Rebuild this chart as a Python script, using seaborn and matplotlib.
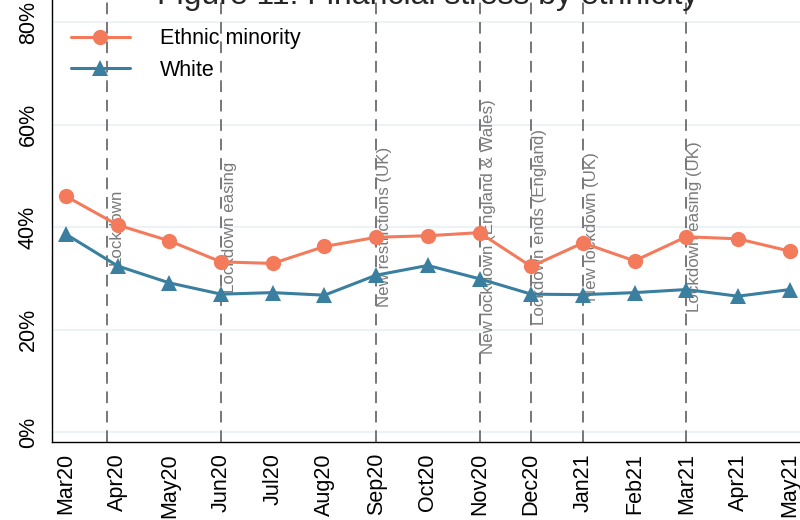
import pandas as pd
import numpy as np
import seaborn as sns
import matplotlib.pyplot as plt

# datos (porcentaje)
meses = ['Mar20', 'Apr20', 'May20', 'Jun20', 'Jul20', 'Aug20', 'Sep20', 'Oct20',
         'Nov20', 'Dec20', 'Jan21', 'Feb21', 'Mar21', 'Apr21', 'May21']
minoria = [46.0, 40.4, 37.3, 33.2, 32.9, 36.2, 38.0, 38.3,
           38.9, 32.3, 36.9, 33.4, 38.1, 37.7, 35.3]
blanco = [38.6, 32.4, 29.1, 26.9, 27.2, 26.7, 30.6, 32.5,
          29.9, 26.9, 26.8, 27.2, 27.8, 26.5, 27.8]

eventos_x = [0.8, 3, 6, 8, 9, 10, 12]
eventos_txt = ['Lockdown', 'Lockdown easing', 'New restrictions (UK)',
               'New lockdown (England & Wales)', 'Lockdown ends (England)',
               'New lockdown (UK)', 'Lockdown easing (UK)']

sns.set_style('white')
plt.rcParams['font.family'] = ['Liberation Sans', 'DejaVu Sans']

df = pd.DataFrame({
    'pos': list(range(len(meses))) * 2,
    'valor': minoria + blanco,
    'grupo': ['Ethnic minority'] * len(meses) + ['White'] * len(meses),
})

fig = plt.figure(figsize=(8, 5.2), dpi=100)
ax = fig.add_axes([0.065, 0.15, 0.935, 0.85])

for y in [0, 20, 40, 60, 80]:
    ax.axhline(y, color='#eaf1f3', lw=1.2, zorder=0)

for x, txt in zip(eventos_x, eventos_txt):
    ax.axvline(x, color='#777777', lw=1.4, ls=(0, (6, 4)), zorder=1)
    ax.text(x + 0.02, 40, txt, rotation=90, ha='left', va='center',
            fontsize=12.2, color='#7a7a7a', zorder=2)

sns.lineplot(data=df, x='pos', y='valor', hue='grupo', style='grupo',
             markers={'Ethnic minority': 'o', 'White': '^'}, dashes=False,
             palette={'Ethnic minority': '#f47a5c', 'White': '#3a7f9f'},
             lw=2.2, markersize=11, markeredgewidth=0, ax=ax, zorder=3)

ax.set_xlim(-0.27, 14.2)
ax.set_ylim(-1.95, 84.3)
ax.set_xticks(range(len(meses)))
ax.set_xticklabels(meses, rotation=90, fontsize=15.5, color='black')
ax.set_yticks([0, 20, 40, 60, 80])
ax.set_yticklabels(['0%', '20%', '40%', '60%', '80%'], rotation=90,
                   va='center', fontsize=15.5, color='black')
ax.tick_params(axis='both', direction='out', length=6, width=1, color='black')
ax.tick_params(axis='x', pad=2)
ax.set_xlabel('')
ax.set_ylabel('')
for s in ['top', 'right']:
    ax.spines[s].set_visible(False)
for s in ['left', 'bottom']:
    ax.spines[s].set_color('black')
    ax.spines[s].set_linewidth(1)

leg = ax.legend(loc='upper left', bbox_to_anchor=(0.0, 0.98), frameon=False,
                fontsize=15.5, handlelength=2.7, handletextpad=1.4,
                labelspacing=0.5, title=None)
for t in leg.get_texts():
    t.set_color('black')

fig.text(0.535, 0.993, 'Figure 11: Financial stress by ethnicity',
         ha='center', va='baseline', fontsize=23)

plt.savefig('out.png', dpi=100)
plt.close()
